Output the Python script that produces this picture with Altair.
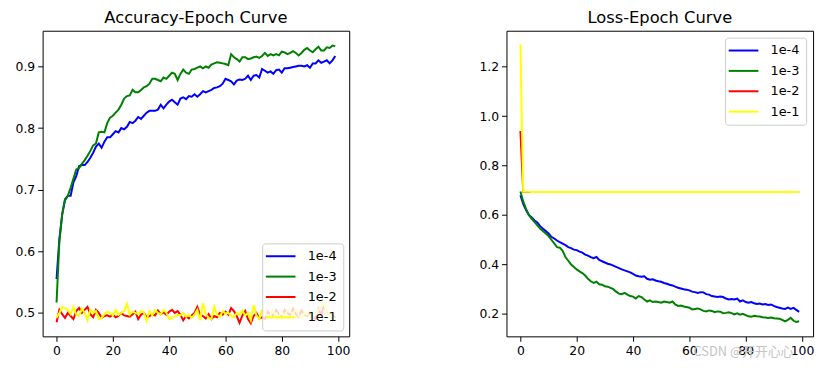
import altair as alt
import pandas as pd

epochs = list(range(100))
labels = ["1e-4", "1e-3", "1e-2", "1e-1"]
colors = ["#0000ff", "#008000", "#ff0000", "#ffff00"]

acc_1e4 = [0.555,0.620,0.660,0.683,0.690,0.690,0.712,0.722,0.738,0.740,
           0.740,0.745,0.752,0.760,0.770,0.775,0.768,0.778,0.785,0.785,
           0.790,0.795,0.793,0.800,0.798,0.802,0.810,0.808,0.812,0.818,
           0.815,0.820,0.825,0.828,0.828,0.828,0.830,0.838,0.832,0.838,
           0.843,0.846,0.842,0.838,0.848,0.850,0.847,0.852,0.851,0.855,
           0.851,0.855,0.860,0.858,0.860,0.862,0.865,0.866,0.868,0.872,
           0.880,0.878,0.876,0.871,0.877,0.879,0.878,0.880,0.885,0.878,
           0.885,0.886,0.882,0.896,0.893,0.890,0.892,0.888,0.894,0.895,
           0.890,0.897,0.897,0.898,0.899,0.900,0.901,0.901,0.900,0.902,
           0.898,0.905,0.905,0.910,0.906,0.908,0.910,0.905,0.910,0.917]

acc_1e3 = [0.517,0.615,0.660,0.685,0.690,0.703,0.718,0.733,0.735,0.742,
           0.748,0.755,0.763,0.772,0.775,0.793,0.794,0.793,0.808,0.817,
           0.820,0.825,0.830,0.838,0.848,0.852,0.853,0.862,0.858,0.858,
           0.862,0.866,0.868,0.872,0.880,0.880,0.878,0.876,0.882,0.880,
           0.885,0.890,0.888,0.878,0.888,0.895,0.890,0.888,0.895,0.896,
           0.898,0.900,0.897,0.900,0.898,0.903,0.905,0.907,0.906,0.905,
           0.904,0.902,0.920,0.915,0.912,0.908,0.915,0.915,0.912,0.913,
           0.915,0.916,0.914,0.917,0.922,0.917,0.920,0.918,0.920,0.918,
           0.924,0.923,0.920,0.922,0.925,0.922,0.918,0.922,0.927,0.930,
           0.926,0.923,0.928,0.932,0.926,0.926,0.931,0.930,0.934,0.933]

acc_1e2 = [0.485,0.505,0.498,0.492,0.500,0.495,0.490,0.503,0.508,0.500,
           0.505,0.510,0.498,0.493,0.505,0.500,0.492,0.495,0.496,0.494,
           0.497,0.493,0.495,0.500,0.496,0.495,0.494,0.498,0.502,0.490,
           0.497,0.500,0.493,0.495,0.498,0.496,0.504,0.498,0.501,0.497,
           0.502,0.505,0.500,0.503,0.497,0.488,0.495,0.491,0.496,0.500,
           0.510,0.497,0.495,0.491,0.498,0.490,0.495,0.493,0.500,0.497,
           0.502,0.497,0.508,0.503,0.495,0.484,0.496,0.503,0.490,0.483,
           0.495,0.500,0.491,0.493,0.490,0.502,0.497,0.496,0.505,0.498,
           0.493,0.505,0.500,0.497,0.507,0.498,0.493,0.504,0.497,0.495,
           0.501,0.494,0.490,0.507,0.497,0.512,0.500,0.498,0.495,0.493]

acc_1e1 = [0.492,0.500,0.510,0.508,0.505,0.498,0.510,0.497,0.495,0.507,
           0.500,0.488,0.505,0.500,0.503,0.490,0.492,0.498,0.502,0.500,
           0.496,0.505,0.497,0.500,0.503,0.515,0.497,0.502,0.500,0.498,
           0.503,0.501,0.487,0.503,0.496,0.505,0.500,0.498,0.505,0.500,
           0.490,0.492,0.494,0.497,0.496,0.500,0.494,0.497,0.492,0.497,
           0.505,0.488,0.516,0.498,0.492,0.490,0.510,0.497,0.494,0.503,
           0.499,0.500,0.495,0.493,0.500,0.497,0.504,0.496,0.500,0.488,
           0.513,0.496,0.490,0.504,0.500,0.494,0.497,0.505,0.492,0.495,
           0.501,0.493,0.505,0.502,0.498,0.507,0.496,0.492,0.500,0.497,
           0.503,0.493,0.497,0.505,0.510,0.516,0.497,0.500,0.493,0.492]

loss_1e4 = [0.680,0.645,0.620,0.600,0.590,0.578,0.570,0.555,0.545,0.535,
            0.525,0.512,0.505,0.497,0.490,0.484,0.478,0.470,0.466,0.460,
            0.458,0.452,0.448,0.440,0.436,0.430,0.425,0.430,0.418,0.413,
            0.408,0.403,0.400,0.395,0.390,0.385,0.380,0.376,0.372,0.368,
            0.362,0.355,0.352,0.350,0.352,0.342,0.338,0.340,0.335,0.332,
            0.330,0.325,0.322,0.318,0.315,0.310,0.306,0.303,0.300,0.298,
            0.295,0.290,0.288,0.285,0.288,0.287,0.280,0.278,0.272,0.270,
            0.268,0.270,0.268,0.262,0.258,0.260,0.258,0.262,0.250,0.255,
            0.248,0.245,0.248,0.243,0.240,0.242,0.238,0.240,0.236,0.238,
            0.232,0.228,0.225,0.222,0.220,0.225,0.220,0.224,0.216,0.208]

loss_1e3 = [0.695,0.655,0.625,0.600,0.585,0.572,0.558,0.545,0.535,0.525,
            0.515,0.500,0.485,0.470,0.468,0.455,0.430,0.415,0.400,0.390,
            0.380,0.372,0.365,0.355,0.342,0.332,0.325,0.330,0.320,0.318,
            0.312,0.310,0.305,0.300,0.290,0.282,0.280,0.285,0.278,0.272,
            0.270,0.262,0.272,0.268,0.258,0.250,0.255,0.248,0.250,0.248,
            0.245,0.250,0.248,0.245,0.250,0.238,0.232,0.234,0.230,0.228,
            0.225,0.218,0.220,0.222,0.218,0.212,0.210,0.214,0.212,0.207,
            0.210,0.209,0.203,0.204,0.206,0.203,0.198,0.202,0.197,0.200,
            0.195,0.190,0.188,0.192,0.190,0.189,0.186,0.185,0.183,0.185,
            0.182,0.181,0.180,0.176,0.170,0.176,0.184,0.172,0.167,0.170]

loss_1e2 = [0.940,0.6935,0.6934,0.6933,0.6933,0.6932,0.6932,0.6932,0.6932,0.6932,
            0.6932,0.6932,0.6932,0.6932,0.6932,0.6932,0.6932,0.6932,0.6932,0.6932,
            0.6932,0.6932,0.6932,0.6932,0.6932,0.6932,0.6932,0.6932,0.6932,0.6932,
            0.6932,0.6932,0.6932,0.6932,0.6932,0.6932,0.6932,0.6932,0.6932,0.6932,
            0.6932,0.6932,0.6932,0.6932,0.6932,0.6932,0.6932,0.6932,0.6932,0.6932,
            0.6932,0.6932,0.6932,0.6932,0.6932,0.6932,0.6932,0.6932,0.6932,0.6932,
            0.6932,0.6932,0.6932,0.6932,0.6932,0.6932,0.6932,0.6932,0.6932,0.6932,
            0.6932,0.6932,0.6932,0.6932,0.6932,0.6932,0.6932,0.6932,0.6932,0.6932,
            0.6932,0.6932,0.6932,0.6932,0.6932,0.6932,0.6932,0.6932,0.6932,0.6932,
            0.6932,0.6932,0.6932,0.6932,0.6932,0.6932,0.6932,0.6932,0.6932,0.6932]

loss_1e1 = [1.290,0.6945,0.6940,0.6938,0.6937,0.6936,0.6935,0.6935,0.6935,0.6935,
            0.6935,0.6935,0.6935,0.6935,0.6935,0.6935,0.6935,0.6935,0.6935,0.6935,
            0.6935,0.6935,0.6935,0.6935,0.6935,0.6935,0.6935,0.6935,0.6935,0.6935,
            0.6935,0.6935,0.6935,0.6935,0.6935,0.6935,0.6935,0.6935,0.6935,0.6935,
            0.6935,0.6935,0.6935,0.6935,0.6935,0.6935,0.6935,0.6935,0.6935,0.6935,
            0.6935,0.6935,0.6935,0.6935,0.6935,0.6935,0.6935,0.6935,0.6935,0.6935,
            0.6935,0.6935,0.6935,0.6935,0.6935,0.6935,0.6935,0.6935,0.6935,0.6935,
            0.6935,0.6935,0.6935,0.6935,0.6935,0.6935,0.6935,0.6935,0.6935,0.6935,
            0.6935,0.6935,0.6935,0.6935,0.6935,0.6935,0.6935,0.6935,0.6935,0.6935,
            0.6935,0.6935,0.6935,0.6935,0.6935,0.6935,0.6935,0.6935,0.6935,0.6935]

x_ticks = [0, 20, 40, 60, 80, 100]
acc_ticks = [0.5, 0.6, 0.7, 0.8, 0.9]
loss_ticks = [0.2, 0.4, 0.6, 0.8, 1.0, 1.2]
watermark = "CSDN @开开心心"

FONT = "DejaVu Sans"


def panel(series, title, ydomain, yticks, orient, offset, extra=None):
    layers = []
    for lab, vals in zip(labels, series):
        df = pd.DataFrame({"epoch": epochs, "value": vals, "lr": [lab] * len(vals)})
        layers.append(
            alt.Chart(df).mark_line(strokeWidth=2).encode(
                x=alt.X("epoch:Q",
                        scale=alt.Scale(domain=[-4.95, 103.95], nice=False, zero=False),
                        axis=alt.Axis(values=x_ticks, title=None, format="d")),
                y=alt.Y("value:Q",
                        scale=alt.Scale(domain=ydomain, nice=False, zero=False),
                        axis=alt.Axis(values=yticks, title=None, format=".1f",
                                      minExtent=30, maxExtent=30)),
                color=alt.Color(
                    "lr:N",
                    scale=alt.Scale(domain=labels, range=colors),
                    legend=alt.Legend(
                        title=None, orient=orient, offset=offset, direction="vertical",
                        symbolType="M-1.55,0H3.45", symbolSize=144,
                        symbolStrokeWidth=2, labelFontSize=13, labelFont=FONT,
                        labelColor="#000000", labelOffset=26, padding=6,
                        rowPadding=6.6, fillColor="rgba(255,255,255,0.8)",
                        strokeColor="#cccccc", cornerRadius=3,
                    ),
                ),
            )
        )
    if extra is not None:
        layers.append(extra)
    return alt.layer(*layers).properties(
        width=310, height=309,
        title=alt.TitleParams(title, fontSize=16.5, font=FONT, fontWeight="normal",
                              color="#000000", offset=4, anchor="middle"),
    )


wm = alt.Chart(pd.DataFrame({"t": [watermark]})).mark_text(
    align="left", baseline="middle", fontSize=13, color="#c4c4c4",
    font="Noto Sans CJK SC",
).encode(text="t:N", x=alt.value(189), y=alt.value(325))

left = panel([acc_1e4, acc_1e3, acc_1e2, acc_1e1], "Accuracy-Epoch Curve",
             [0.462, 0.958], acc_ticks, "bottom-right", 6)
right = panel([loss_1e4, loss_1e3, loss_1e2, loss_1e1], "Loss-Epoch Curve",
              [0.109, 1.346], loss_ticks, "top-right", 7, extra=wm)

chart = alt.hconcat(left, right, spacing=126).resolve_scale(
    color="independent"
).properties(
    padding={"left": 4, "top": 0, "right": 5, "bottom": 5},
    background="#ffffff",
).configure_view(
    stroke="#000000", strokeWidth=1,
).configure_axis(
    domain=False, grid=False, tickColor="#000000", tickSize=5, tickWidth=1,
    labelColor="#000000", labelFont=FONT, labelFontSize=12.5, labelPadding=3,
)

chart.save("out.html", embed_options={"renderer": "svg", "actions": False})
